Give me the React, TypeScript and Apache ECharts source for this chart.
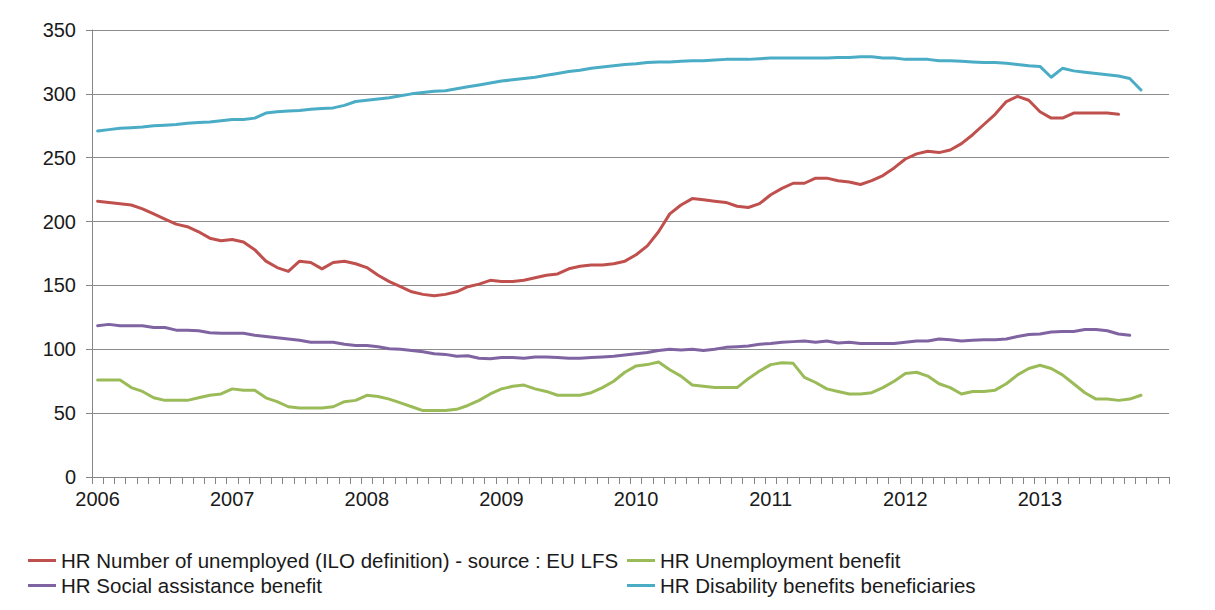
import React, { useEffect, useRef } from "react";
import * as echarts from "echarts";

const years = ["2006", "2007", "2008", "2009", "2010", "2011", "2012", "2013"];
const months = ["01", "02", "03", "04", "05", "06", "07", "08", "09", "10", "11", "12"];
const categories: string[] = [];
years.forEach((y) => months.forEach((m) => categories.push(`${y}-${m}`)));

const unemployedName = "HR Number of unemployed (ILO definition) - source : EU LFS";
const unemploymentBenefitName = "HR Unemployment benefit";
const socialAssistanceName = "HR Social assistance benefit";
const disabilityName = "HR Disability benefits beneficiaries";

const unemployed = [
  216, 215, 214, 213, 210, 206, 202, 198, 196, 192, 187, 185,
  186, 184, 178, 169, 164, 161, 169, 168, 163, 168, 169, 167,
  164, 158, 153, 149, 145, 143, 142, 143, 145, 149, 151, 154,
  153, 153, 154, 156, 158, 159, 163, 165, 166, 166, 167, 169,
  174, 181, 192, 206, 213, 218, 217, 216, 215, 212, 211, 214,
  221, 226, 230, 230, 234, 234, 232, 231, 229, 232, 236, 242,
  249, 253, 255, 254, 256, 261, 268, 276, 284, 294, 298, 295,
  286, 281, 281, 285, 285, 285, 285, 284,
];

const unemploymentBenefit = [
  76, 76, 76, 70, 67, 62, 60, 60, 60, 62, 64, 65,
  69, 68, 68, 62, 59, 55, 54, 54, 54, 55, 59, 60,
  64, 63, 61, 58, 55, 52, 52, 52, 53, 56, 60, 65,
  69, 71, 72, 69, 67, 64, 64, 64, 66, 70, 75, 82,
  87, 88, 90, 84, 79, 72, 71, 70, 70, 70, 77, 83,
  88, 89.5, 89, 78, 74, 69, 67, 65, 65, 66, 70, 75,
  81, 82, 79, 73, 70, 65, 67, 67, 68, 73, 80, 85,
  87.5, 85, 80, 73, 66, 61, 61, 60, 61, 64,
];

const socialAssistance = [
  118.5, 119.5, 118.5, 118.5, 118.5, 117, 117, 115, 115, 114.5, 113, 112.5,
  112.5, 112.5, 111, 110, 109, 108, 107, 105.5, 105.5, 105.5, 104, 103,
  103, 102, 100.5, 100, 99, 98, 96.5, 96, 94.5, 95, 93, 92.5,
  93.5, 93.5, 93, 94, 94, 93.5, 93, 93, 93.5, 94, 94.5, 95.5,
  96.5, 97.5, 99, 100, 99.5, 100, 99, 100, 101.5, 102, 102.5, 104,
  104.5, 105.5, 106, 106.5, 105.5, 106.5, 105, 105.5, 104.5, 104.5, 104.5, 104.5,
  105.5, 106.5, 106.5, 108, 107.5, 106.5, 107, 107.5, 107.5, 108, 110, 111.5,
  112, 113.5, 114, 114, 115.5, 115.5, 114.5, 112, 111,
];

const disability = [
  271, 272, 273, 273.5, 274, 275, 275.5, 276, 277, 277.5, 278, 279,
  280, 280, 281, 285, 286, 286.5, 287, 288, 288.5, 289, 291, 294,
  295, 296, 297, 298.5, 300, 301, 302, 302.5, 304, 305.5, 307, 308.5,
  310, 311, 312, 313, 314.5, 316, 317.5, 318.5, 320, 321, 322, 323,
  323.5, 324.5, 325, 325, 325.5, 326, 326, 326.5, 327, 327, 327, 327.5,
  328, 328, 328, 328, 328, 328, 328.5, 328.5, 329, 329, 328, 328,
  327, 327, 327, 326, 326, 325.5, 325, 324.5, 324.5, 324, 323, 322,
  321.5, 313, 320, 318, 317, 316, 315, 314, 312, 303,
];

const yTicks = { min: 0, max: 350, interval: 50 };

const colors = ["#C0504D", "#9BBB59", "#8064A2", "#4BACC6"];

const FONT = "'Liberation Sans', Arial, sans-serif";

export default function App() {
  const ref = useRef<HTMLDivElement>(null);
  useEffect(() => {
    document.body.style.margin = "0";
    const chart = echarts.init(ref.current!, undefined, { renderer: "svg" });
    const mk = (name: string, data: number[], color: string) => ({
      name,
      type: "line",
      data,
      showSymbol: false,
      symbol: "none",
      lineStyle: { width: 3, color, cap: "round", join: "round" },
      itemStyle: { color },
    });
    const legendBase = {
      orient: "horizontal",
      icon: "rect",
      itemWidth: 28,
      itemHeight: 3,
      textStyle: { fontSize: 20.5, color: "#1a1a1a", fontFamily: FONT },
      padding: 0,
    };
    chart.setOption({
      animation: false,
      backgroundColor: "#ffffff",
      color: colors,
      textStyle: { fontFamily: FONT },
      grid: { left: 92, right: 46, top: 30, bottom: 133, containLabel: false },
      xAxis: {
        type: "category",
        data: categories,
        boundaryGap: true,
        axisLine: { show: true, lineStyle: { color: "#868686", width: 1 } },
        axisTick: { show: true, interval: 0, length: 7, lineStyle: { color: "#868686" } },
        axisLabel: {
          interval: (i: number) => i % 12 === 0,
          formatter: (v: string) => v.slice(0, 4),
          fontSize: 20,
          color: "#1a1a1a",
          margin: 12,
          fontFamily: FONT,
        },
        splitLine: { show: false },
      },
      yAxis: {
        type: "value",
        min: yTicks.min,
        max: yTicks.max,
        interval: yTicks.interval,
        axisLine: { show: true, lineStyle: { color: "#868686", width: 1 } },
        axisTick: { show: true, length: 6, lineStyle: { color: "#868686" } },
        axisLabel: { fontSize: 20, color: "#1a1a1a", margin: 16, fontFamily: FONT },
        splitLine: { show: true, lineStyle: { color: "#8c8c8c", width: 1 } },
      },
      legend: [
        { ...legendBase, data: [unemployedName], left: 28, top: 550 },
        { ...legendBase, data: [unemploymentBenefitName], left: 627, top: 550 },
        { ...legendBase, data: [socialAssistanceName], left: 28, top: 575 },
        { ...legendBase, data: [disabilityName], left: 627, top: 575 },
      ],
      series: [
        mk(unemployedName, unemployed, colors[0]),
        mk(unemploymentBenefitName, unemploymentBenefit, colors[1]),
        mk(socialAssistanceName, socialAssistance, colors[2]),
        mk(disabilityName, disability, colors[3]),
      ],
    });
    return () => chart.dispose();
  }, []);
  return (
    <div
      ref={ref}
      style={{ position: "absolute", left: 0, top: 0, width: 1215, height: 610 }}
    />
  );
}
